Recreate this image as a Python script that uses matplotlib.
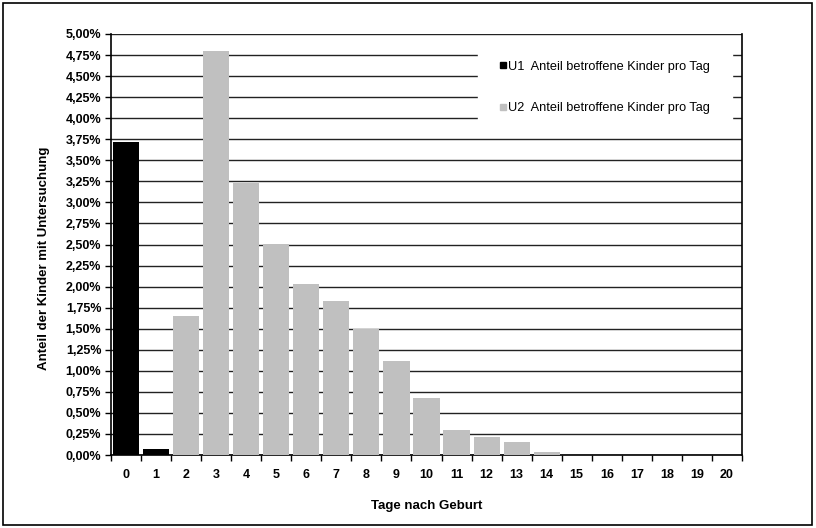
import matplotlib
matplotlib.use("Agg")
import matplotlib.pyplot as plt
from matplotlib.patches import Rectangle
from matplotlib.lines import Line2D
import numpy as np

plt.rcParams['font.family'] = ['Liberation Sans', 'DejaVu Sans']

days = list(range(21))
u1 = [3.72, 0.07] + [0.0] * 19
u2 = [0.0, 0.0, 1.65, 4.80, 3.23, 2.51, 2.03, 1.83, 1.50, 1.12, 0.68,
      0.30, 0.21, 0.15, 0.04, 0.0, 0.0, 0.0, 0.0, 0.0, 0.0]
yticks = [i * 0.25 for i in range(21)]
ytick_labels = [f"{v:.2f}%".replace(".", ",") for v in yticks]
legend_labels = ["U1  Anteil betroffene Kinder pro Tag",
                 "U2  Anteil betroffene Kinder pro Tag"]
xlabel = "Tage nach Geburt"
ylabel = "Anteil der Kinder mit Untersuchung"

fig = plt.figure(figsize=(8.16, 5.28), dpi=100)
fig.patches.append(Rectangle((3/816, 3/528), 809/816, 522/528, transform=fig.transFigure,
                             fill=False, edgecolor='black', linewidth=1.2))
ax = fig.add_axes([111/816, 1 - 455/528, 631/816, 421/528])

x = np.array(days)
ax.bar(x, u1, width=0.87, color='black', zorder=3)
ax.bar(x, u2, width=0.87, color='#c0c0c0', zorder=3)

ax.set_xlim(-0.5, 20.5)
ax.set_ylim(0, 5.0)
ax.set_yticks(yticks)
ax.set_yticklabels(ytick_labels, fontsize=9, fontweight='bold')
ax.yaxis.grid(True, color='#222222', linewidth=1.0, zorder=0)
ax.set_axisbelow(True)

ax.set_xticks(np.arange(-0.5, 21, 1.0))
ax.set_xticklabels([])
ax.set_xticks(x, minor=True)
ax.set_xticklabels([str(d) for d in days], minor=True, fontsize=9, fontweight='bold')
ax.tick_params(axis='x', which='major', direction='out', length=4, width=1, color='black')
ax.tick_params(axis='x', which='minor', length=0, pad=10)
ax.tick_params(axis='y', direction='out', length=4, width=1, pad=3)

ax.spines['top'].set_visible(False)
for s in ['left', 'bottom', 'right']:
    ax.spines[s].set_color('black')
    ax.spines[s].set_linewidth(1.2)

ax.set_xlabel(xlabel, fontsize=9.5, fontweight='bold', labelpad=14)
ax.set_ylabel(ylabel, fontsize=9.5, fontweight='bold')
ax.yaxis.set_label_coords(-0.0967, 0.468)

handles = [Line2D([], [], marker='s', linestyle='none', color='black', markersize=4.5),
           Line2D([], [], marker='s', linestyle='none', color='#c0c0c0', markersize=4.5)]
leg = ax.legend(handles, legend_labels, loc='upper right', bbox_to_anchor=(0.984, 0.988),
                frameon=True, fancybox=False, framealpha=1, edgecolor='white',
                fontsize=9.2, labelspacing=2.3, handlelength=0.5, handletextpad=0.2,
                borderpad=1.7, borderaxespad=0.0)
leg.set_zorder(5)

fig.savefig("out.png", dpi=100)
